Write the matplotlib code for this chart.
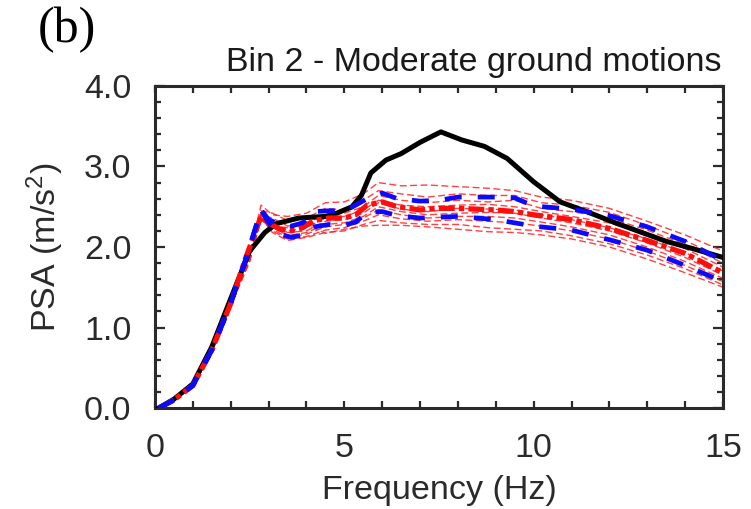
import numpy as np
import matplotlib.pyplot as plt
from matplotlib.ticker import MultipleLocator

plt.rcParams['font.family'] = ['Liberation Sans', 'DejaVu Sans']
plt.rcParams['mathtext.fontset'] = 'custom'
plt.rcParams['mathtext.rm'] = 'Liberation Sans'
plt.rcParams['mathtext.it'] = 'Liberation Sans'

# target spectrum (black)
freq_t = [0.1, 0.5, 1.0, 1.5, 2.0, 2.5, 2.9, 3.2, 3.8, 4.5, 4.8, 5.2, 5.45, 5.7, 6.1,
          6.5, 7.0, 7.55, 8.1, 8.7, 9.3, 10.0, 10.7, 11.4, 12.1, 12.8, 13.5, 14.2, 15.0]
psa_target = [0.0, 0.11, 0.3, 0.76, 1.36, 1.95, 2.18, 2.29, 2.36, 2.38, 2.42, 2.50, 2.64, 2.92, 3.08,
              3.16, 3.30, 3.43, 3.33, 3.25, 3.10, 2.81, 2.56, 2.44, 2.31, 2.19, 2.07, 1.98, 1.87]

# median and +/- bands
freq_b = [0.1, 0.5, 1.0, 1.5, 2.0, 2.4, 2.8, 3.0, 3.3, 3.6, 3.9, 4.2, 4.6, 5.0, 5.3,
          5.6, 6.0, 6.4, 7.0, 7.5, 8.0, 8.5, 9.0, 9.5, 10.0, 11.0, 12.0, 13.0, 14.0, 15.0]
psa_upper = [0.0, 0.1, 0.28, 0.72, 1.3, 1.85, 2.46, 2.34, 2.28, 2.26, 2.30, 2.44, 2.45, 2.45, 2.52,
             2.60, 2.67, 2.60, 2.57, 2.58, 2.62, 2.62, 2.62, 2.61, 2.51, 2.47, 2.39, 2.25, 2.07, 1.83]
psa_lower = [0.0, 0.1, 0.28, 0.72, 1.3, 1.85, 2.46, 2.30, 2.16, 2.12, 2.15, 2.25, 2.28, 2.27, 2.31,
             2.43, 2.44, 2.39, 2.36, 2.37, 2.38, 2.36, 2.34, 2.30, 2.26, 2.21, 2.09, 1.96, 1.77, 1.57]
psa_median = [0.0, 0.1, 0.28, 0.72, 1.3, 1.87, 2.38, 2.30, 2.22, 2.20, 2.24, 2.33, 2.36, 2.36, 2.40,
              2.52, 2.56, 2.50, 2.46, 2.48, 2.48, 2.47, 2.46, 2.44, 2.40, 2.34, 2.23, 2.08, 1.92, 1.68]

# individual records (thin red)
freq_r = [0.1, 0.5, 1.0, 1.5, 2.0, 2.5, 2.8, 3.1, 3.5, 4.0, 4.5, 5.0, 5.5, 5.9, 6.5,
          7.2, 8.0, 8.8, 9.5, 10.2, 11.0, 12.0, 13.0, 14.0, 15.0]
rec1 = [0, 0.1, 0.28, 0.73, 1.33, 1.92, 2.52, 2.40, 2.38, 2.42, 2.55, 2.56, 2.66, 2.80, 2.76, 2.77, 2.75, 2.73, 2.70, 2.62, 2.58, 2.48, 2.32, 2.15, 1.95]
rec2 = [0, 0.1, 0.27, 0.70, 1.28, 1.88, 2.45, 2.42, 2.33, 2.36, 2.48, 2.46, 2.58, 2.70, 2.66, 2.62, 2.66, 2.64, 2.64, 2.55, 2.52, 2.43, 2.27, 2.08, 1.86]
rec3 = [0, 0.1, 0.29, 0.74, 1.32, 1.90, 2.40, 2.36, 2.26, 2.30, 2.40, 2.42, 2.50, 2.64, 2.58, 2.55, 2.58, 2.56, 2.58, 2.48, 2.44, 2.36, 2.21, 2.03, 1.80]
rec4 = [0, 0.1, 0.28, 0.71, 1.30, 1.86, 2.42, 2.30, 2.20, 2.24, 2.36, 2.38, 2.46, 2.58, 2.52, 2.50, 2.52, 2.53, 2.50, 2.44, 2.38, 2.30, 2.15, 1.98, 1.75]
rec5 = [0, 0.1, 0.28, 0.72, 1.29, 1.86, 2.36, 2.28, 2.18, 2.20, 2.32, 2.34, 2.42, 2.55, 2.47, 2.44, 2.48, 2.47, 2.46, 2.40, 2.34, 2.24, 2.10, 1.93, 1.70]
rec6 = [0, 0.1, 0.27, 0.70, 1.27, 1.84, 2.38, 2.25, 2.14, 2.18, 2.28, 2.30, 2.38, 2.50, 2.44, 2.40, 2.42, 2.43, 2.42, 2.36, 2.30, 2.20, 2.05, 1.87, 1.65]
rec7 = [0, 0.1, 0.28, 0.72, 1.31, 1.85, 2.34, 2.22, 2.12, 2.16, 2.25, 2.28, 2.36, 2.46, 2.40, 2.36, 2.38, 2.38, 2.36, 2.31, 2.25, 2.15, 2.00, 1.82, 1.61]
rec8 = [0, 0.1, 0.28, 0.71, 1.29, 1.83, 2.35, 2.20, 2.10, 2.13, 2.21, 2.24, 2.32, 2.40, 2.35, 2.32, 2.34, 2.32, 2.30, 2.26, 2.20, 2.10, 1.95, 1.77, 1.57]
rec9 = [0, 0.1, 0.27, 0.69, 1.27, 1.82, 2.37, 2.18, 2.08, 2.12, 2.18, 2.20, 2.28, 2.33, 2.30, 2.28, 2.28, 2.24, 2.22, 2.20, 2.14, 2.04, 1.90, 1.73, 1.53]
rec10 = [0, 0.1, 0.28, 0.72, 1.30, 1.84, 2.40, 2.26, 2.24, 2.28, 2.17, 2.22, 2.26, 2.27, 2.27, 2.25, 2.22, 2.19, 2.18, 2.15, 2.10, 2.00, 1.85, 1.68, 1.50]
records = [rec1, rec2, rec3, rec4, rec5, rec6, rec7, rec8, rec9, rec10]

fig = plt.figure(figsize=(7.51, 5.09), dpi=100)
ax = fig.add_axes([155/751, 101/509, 568/751, 322/509])

for rec in records:
    ax.plot(freq_r, rec, color='#ff2020', lw=1.0, dashes=(5, 2.5), alpha=0.85, zorder=2)

ax.plot(freq_t, psa_target, color='black', lw=3.6, solid_joinstyle='round', zorder=3)
ax.plot(freq_b, psa_median, color='#ff0d0d', lw=3.8, dashes=(3, 0.8, 1, 0.8), zorder=6)
ax.plot(freq_b, psa_upper, color='#0a0aff', lw=3.4, dashes=(3.6, 3.4), zorder=7)
ax.plot(freq_b, psa_lower, color='#0a0aff', lw=3.4, dashes=(3.6, 3.4), zorder=7)

ax.set_xlim(0, 15)
ax.set_ylim(0, 4)
ax.set_xticks([0, 5, 10, 15])
ax.xaxis.set_minor_locator(MultipleLocator(1))
ax.set_yticks([0, 1, 2, 3, 4])
ax.set_yticklabels(['0.0', '1.0', '2.0', '3.0', '4.0'])
ax.yaxis.set_minor_locator(MultipleLocator(0.2))

ax.tick_params(which='both', direction='in', top=True, right=True, colors='#2a2a2a',
               labelsize=24.5, width=1.6)
ax.tick_params(axis='x', which='major', length=5, pad=18)
ax.tick_params(axis='x', which='minor', length=5)
ax.tick_params(axis='y', which='major', length=7, pad=17)
ax.tick_params(axis='y', which='minor', length=4)
for sp in ax.spines.values():
    sp.set_linewidth(2.2)
    sp.set_color('#2a2a2a')

ax.set_xlabel('Frequency (Hz)', fontsize=24.5, color='#2a2a2a', labelpad=8)
ax.set_ylabel('PSA (m/s$^2$)', fontsize=24.5, color='#2a2a2a', labelpad=13)

fig.text(722/751, 1 - 62/509, 'Bin 2 - Moderate ground motions', ha='right', va='center',
         fontsize=24.5, color='#1a1a1a')
fig.text(38/751, 1 - 30/509, '(b)', ha='left', va='center', fontsize=36,
         family='Liberation Serif', color='black')

fig.savefig('out.png', dpi=100)
